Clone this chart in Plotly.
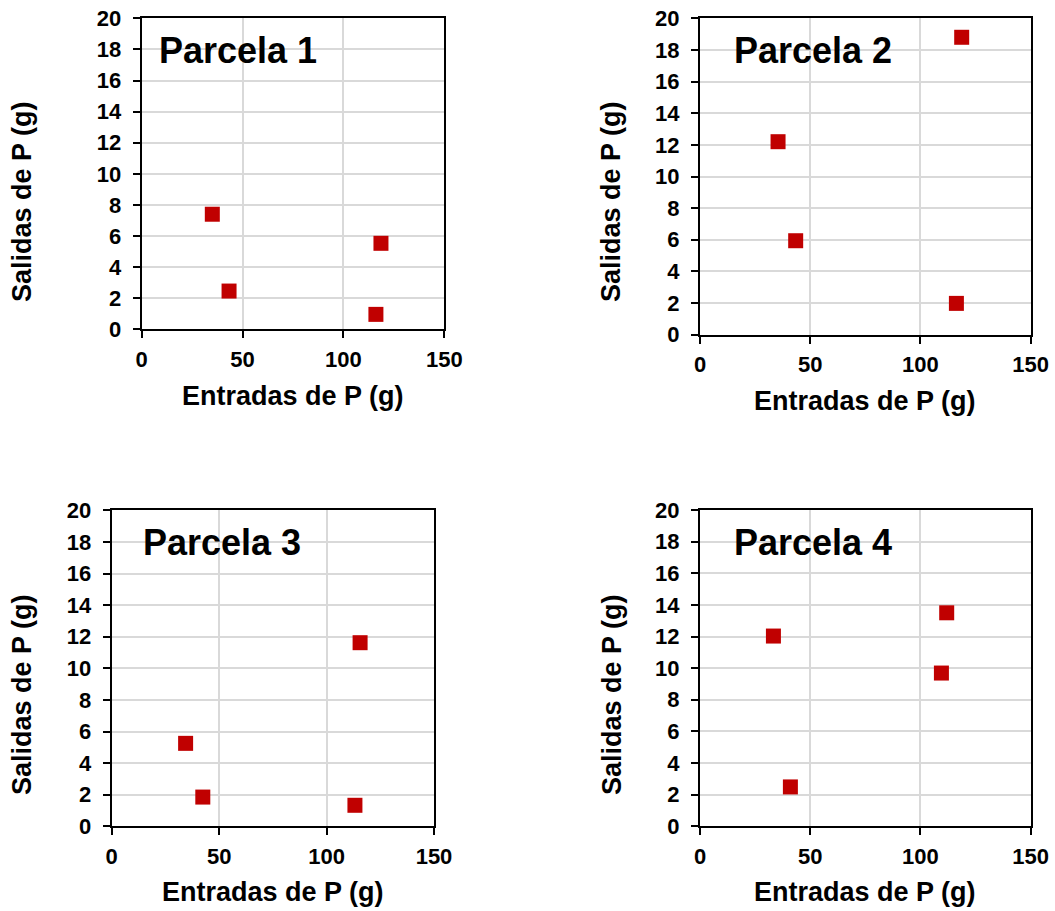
import plotly.graph_objects as go

# Inputs and outputs of P (g) for each plot
parcelas = ["Parcela 1", "Parcela 2", "Parcela 3", "Parcela 4"]
entradas_1 = [35.0, 43.3, 118.6, 116.1]
salidas_1 = [7.40, 2.46, 5.53, 0.96]
entradas_2 = [35.4, 43.4, 118.7, 116.3]
salidas_2 = [12.2, 5.94, 18.8, 1.98]
entradas_3 = [34.4, 42.4, 115.6, 113.2]
salidas_3 = [5.25, 1.85, 11.62, 1.33]
entradas_4 = [33.3, 41.0, 111.9, 109.5]
salidas_4 = [12.03, 2.49, 13.5, 9.69]

x_ticks = [0, 50, 100, 150]
y_ticks = list(range(0, 21, 2))
x_title = "Entradas de P (g)"
y_title = "Salidas de P (g)"

W, H = 1055, 911
FONT = "Liberation Sans, Arial, sans-serif"
RED = "#C00000"

# plot-area boxes in pixels: left, right, top, bottom
boxes = [
    (141.7, 444.3, 18.3, 329.3),
    (700.0, 1030.7, 18.3, 334.7),
    (111.7, 434.0, 510.3, 826.3),
    (700.0, 1030.7, 510.0, 826.3),
]
# label anchor positions (pixels)
panel_label_pos = [(157, 50), (732, 50), (141, 542), (732, 542)]
x_title_pos = [(293, 396), (865, 401), (273, 892), (865, 892)]
y_title_pos = [(22, 202), (611, 202), (22, 695), (612, 695)]

series = [
    (entradas_1, salidas_1),
    (entradas_2, salidas_2),
    (entradas_3, salidas_3),
    (entradas_4, salidas_4),
]

fig = go.Figure()
annotations = []
for i, ((xs, ys), (l, r, t, b)) in enumerate(zip(series, boxes)):
    n = "" if i == 0 else str(i + 1)
    fig.add_trace(go.Scatter(
        x=xs, y=ys, mode="markers",
        marker=dict(symbol="square", size=15, color=RED, line=dict(width=0)),
        xaxis="x" + n, yaxis="y" + n, showlegend=False, cliponaxis=False,
    ))
    common = dict(
        showline=True, linecolor="black", linewidth=2, mirror=True,
        showgrid=True, gridcolor="#D9D9D9", gridwidth=2,
        ticks="outside", ticklen=7, tickwidth=2, tickcolor="black",
        tickfont=dict(family=FONT, size=22, color="black", weight="bold"),
        zeroline=False, fixedrange=True, automargin=False,
    )
    fig.layout["xaxis" + n] = dict(
        common, domain=[l / W, r / W], range=[0, 150],
        tickvals=x_ticks, anchor="y" + n, ticklabelstandoff=2,
    )
    fig.layout["yaxis" + n] = dict(
        common, domain=[1 - b / H, 1 - t / H], range=[0, 20],
        tickvals=y_ticks, anchor="x" + n, ticklabelstandoff=7,
    )
    px, py = panel_label_pos[i]
    annotations.append(dict(
        text=parcelas[i], x=px / W, y=1 - py / H, xref="paper", yref="paper",
        xanchor="left", yanchor="middle", showarrow=False,
        font=dict(family=FONT, size=36, color="black", weight="bold"),
    ))
    tx, ty = x_title_pos[i]
    annotations.append(dict(
        text=x_title, x=tx / W, y=1 - ty / H, xref="paper", yref="paper",
        xanchor="center", yanchor="middle", showarrow=False,
        font=dict(family=FONT, size=27, color="black", weight="bold"),
    ))
    yx, yy = y_title_pos[i]
    annotations.append(dict(
        text=y_title, x=yx / W, y=1 - yy / H, xref="paper", yref="paper",
        xanchor="center", yanchor="middle", textangle=-90, showarrow=False,
        font=dict(family=FONT, size=27, color="black", weight="bold"),
    ))

fig.update_layout(
    width=W, height=H,
    margin=dict(l=0, r=0, t=0, b=0, autoexpand=False),
    paper_bgcolor="white", plot_bgcolor="white",
    annotations=annotations,
)

fig.write_html("out.html")
